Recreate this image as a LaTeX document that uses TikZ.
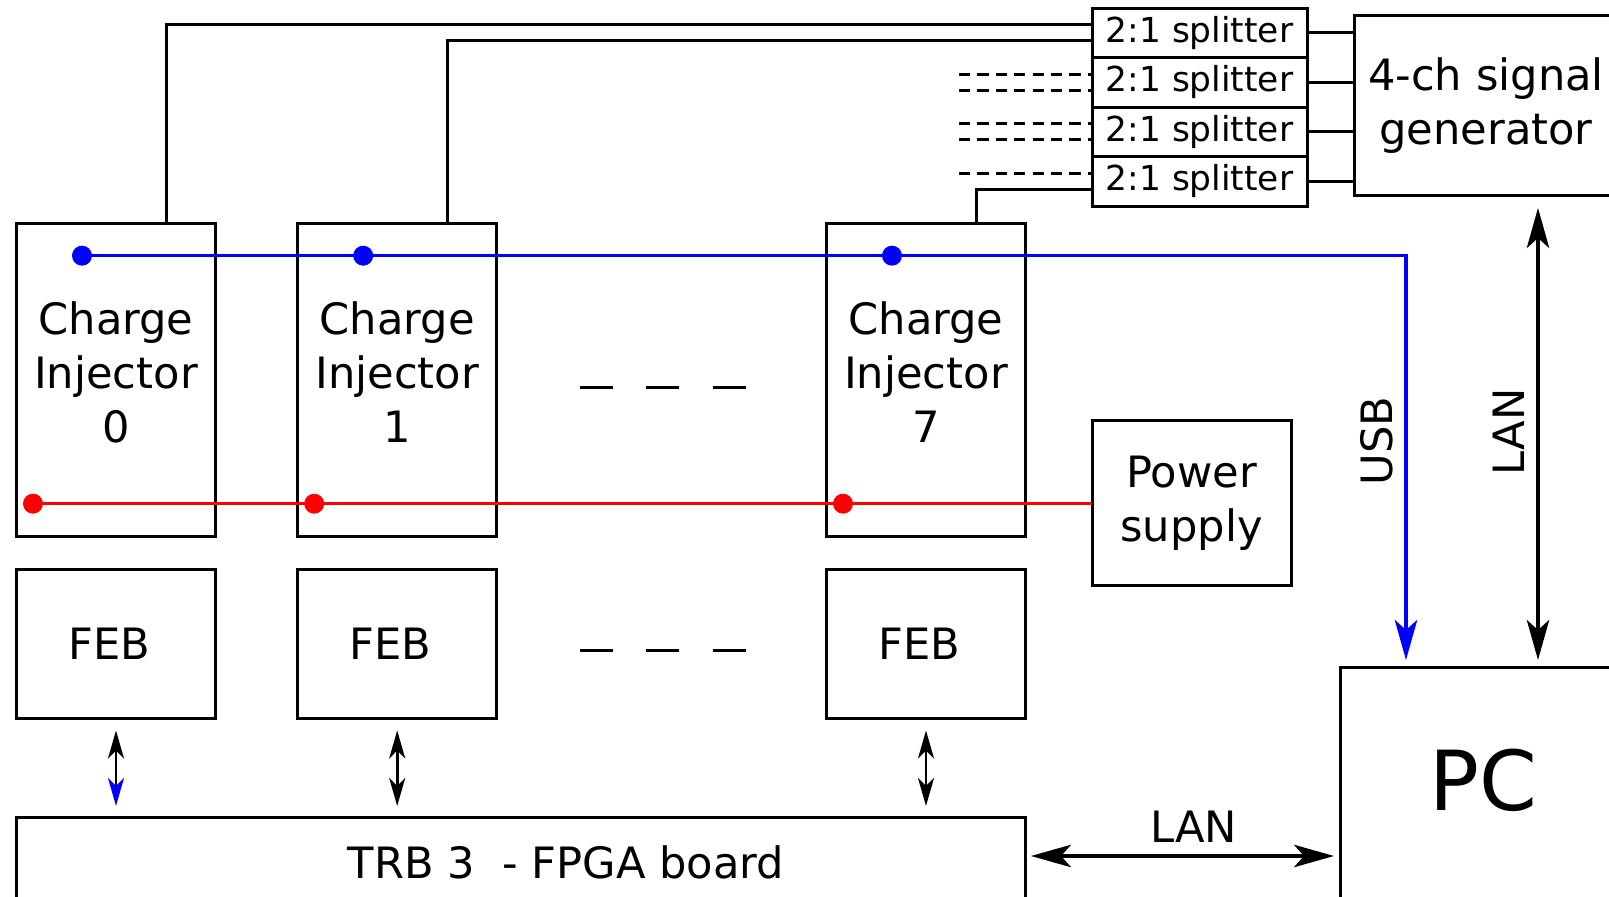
\documentclass[tikz,border=0pt]{standalone}
\usepackage{fontspec}
\setmainfont{DejaVu Sans}
\usetikzlibrary{arrows.meta,positioning}

\begin{document}
\begin{tikzpicture}[x=0.25pt,y=-0.25pt,every node/.style={outer sep=0pt,font=\fontsize{10.8}{13.5}\selectfont}]

\tikzstyle{box}=[draw,line width=0.75pt,align=center]
\tikzstyle{injector}=[box,minimum width=49.75pt,minimum height=78.25pt,text depth=4pt]
\tikzstyle{feb}=[box,minimum width=49.75pt,minimum height=37.25pt]
\tikzstyle{splitter}=[draw,line width=0.75pt,inner sep=1pt,minimum width=53.75pt,minimum height=12.375pt,font=\fontsize{8.6}{10}\selectfont]
\tikzstyle{wire}=[line width=0.75pt]
\tikzstyle{spare}=[wire,dash pattern=on 2.8pt off 1.8pt]
\tikzstyle{usb}=[blue,line width=0.9pt]
\tikzstyle{power}=[red,line width=0.9pt]
\tikzstyle{bdot}=[circle,fill=blue,minimum size=5pt,inner sep=0pt]
\tikzstyle{rdot}=[circle,fill=red,minimum size=5pt,inner sep=0pt]
\tikzstyle{lan}=[line width=0.8pt,{Stealth[length=10pt,width=5.6pt,inset=2.5pt]}-{Stealth[length=10pt,width=5.6pt,inset=2.5pt]}]
\tikzstyle{link}=[line width=0.7pt,shorten <=3pt,shorten >=3pt,{Stealth[length=7pt,width=4pt,inset=2pt]}-{Stealth[length=7pt,width=4pt,inset=2pt]}]
\tikzstyle{etc}=[line width=0.75pt,dash pattern=on 8.2pt off 8.4pt]

\useasboundingbox (0,0) rectangle (1609,897);
\clip (0,0) rectangle (1609,897);

\node (ci0) at (116,380.2) [injector] {Charge\\Injector\\0};
\node (ci1) at (397.2,380.2) [injector] {Charge\\Injector\\1};
\node (ci7) at (926,380.2) [injector] {Charge\\Injector\\7};
\node (feb0) at (116,644) [feb] {FEB\ };
\node (feb1) at (397.2,644) [feb] {FEB\ };
\node (feb7) at (926,644) [feb] {FEB\ };
\node (trb) at (520.7,862) [box,minimum width=252.15pt,minimum height=22pt] {};
\node (trbtext) at ([xshift=11.3pt]trb.center) {TRB 3\ \ - FPGA board};
\node (psu) at (1191.5,503.3) [box,minimum width=49.75pt,minimum height=41.3pt] {Power\\supply};

\node (sp1) at (1199.5,32.95) [splitter] {2:1 splitter};
\node (sp2) [splitter,below=0pt of sp1] {2:1 splitter};
\node (sp3) [splitter,below=0pt of sp2] {2:1 splitter};
\node (sp4) [splitter,below=0pt of sp3] {2:1 splitter};
\node (gen) at (1486,105.7) [box,minimum width=64.75pt,minimum height=45.15pt] {4-ch signal\\generator};
\node (pc) at (1500,808) [box,minimum width=80pt,minimum height=70pt] {};
\node (pctext) at (1483,780) [font=\fontsize{20.7}{24}\selectfont] {PC};

\node (b0) at ([xshift=-8.5pt,yshift=-8pt]ci0.north) [bdot] {};
\node (b1) at ([xshift=-8.5pt,yshift=-8pt]ci1.north) [bdot] {};
\node (b7) at ([xshift=-8.5pt,yshift=-8pt]ci7.north) [bdot] {};
\node (r0) at ([xshift=-20.75pt,yshift=-70pt]ci0.north) [rdot] {};
\node (r1) at ([xshift=-20.75pt,yshift=-70pt]ci1.north) [rdot] {};
\node (r7) at ([xshift=-20.75pt,yshift=-70pt]ci7.north) [rdot] {};

\draw [usb,-{Stealth[length=10pt,width=5.6pt,inset=2.5pt]},shorten >=2pt] (b0.center) -- (b7.center) -| ([xshift=16.5pt]pc.north west) node[pos=0.725,rotate=90,above,text=black] {USB};
\draw [power] (r0.center) -- (r0.center -| psu.west);

\draw [wire] ([xshift=12.5pt]ci0.north) |- ([yshift=2pt]sp1.west);
\draw [wire] ([xshift=12.5pt]ci1.north) |- ([yshift=-2pt]sp1.west);
\draw [wire] ([xshift=12.5pt]ci7.north) |- ([yshift=-2pt]sp4.west);
\draw [spare] ([xshift=-33.25pt,yshift=2pt]sp2.west) -- ([yshift=2pt]sp2.west);
\draw [spare] ([xshift=-33.25pt,yshift=-2pt]sp2.west) -- ([yshift=-2pt]sp2.west);
\draw [spare] ([xshift=-33.25pt,yshift=2pt]sp3.west) -- ([yshift=2pt]sp3.west);
\draw [spare] ([xshift=-33.25pt,yshift=-2pt]sp3.west) -- ([yshift=-2pt]sp3.west);
\draw [spare] ([xshift=-33.25pt,yshift=2pt]sp4.west) -- ([yshift=2pt]sp4.west);
\draw [wire] (sp1.east) -- (sp1.east -| gen.west);
\draw [wire] (sp2.east) -- (sp2.east -| gen.west);
\draw [wire] (sp3.east) -- (sp3.east -| gen.west);
\draw [wire] (sp4.east) -- (sp4.east -| gen.west);

\coordinate (lanx) at (1538,0);
\draw [lan,shorten <=3pt,shorten >=2pt] (lanx |- gen.south) -- (lanx |- pc.north) node[midway,rotate=90,above] {LAN};
\draw [lan,shorten <=1.5pt,shorten >=1.5pt] ([yshift=1.5pt]trb.east) -- ([yshift=1.5pt]trb.east -| pc.west) node[pos=0.535,above] {LAN};

\draw [link,{Stealth[length=7pt,width=4pt,inset=2pt]}-{Stealth[length=7pt,width=4pt,inset=2pt,color=blue]}] (feb0.south) -- (feb0.south |- trb.north);
\draw [link] (feb1.south) -- (feb1.south |- trb.north);
\draw [link] (feb7.south) -- (feb7.south |- trb.north);

\draw [etc] (580,388) -- (746,388);
\draw [etc] (580,650.6) -- (746,650.6);

\end{tikzpicture}
\end{document}
